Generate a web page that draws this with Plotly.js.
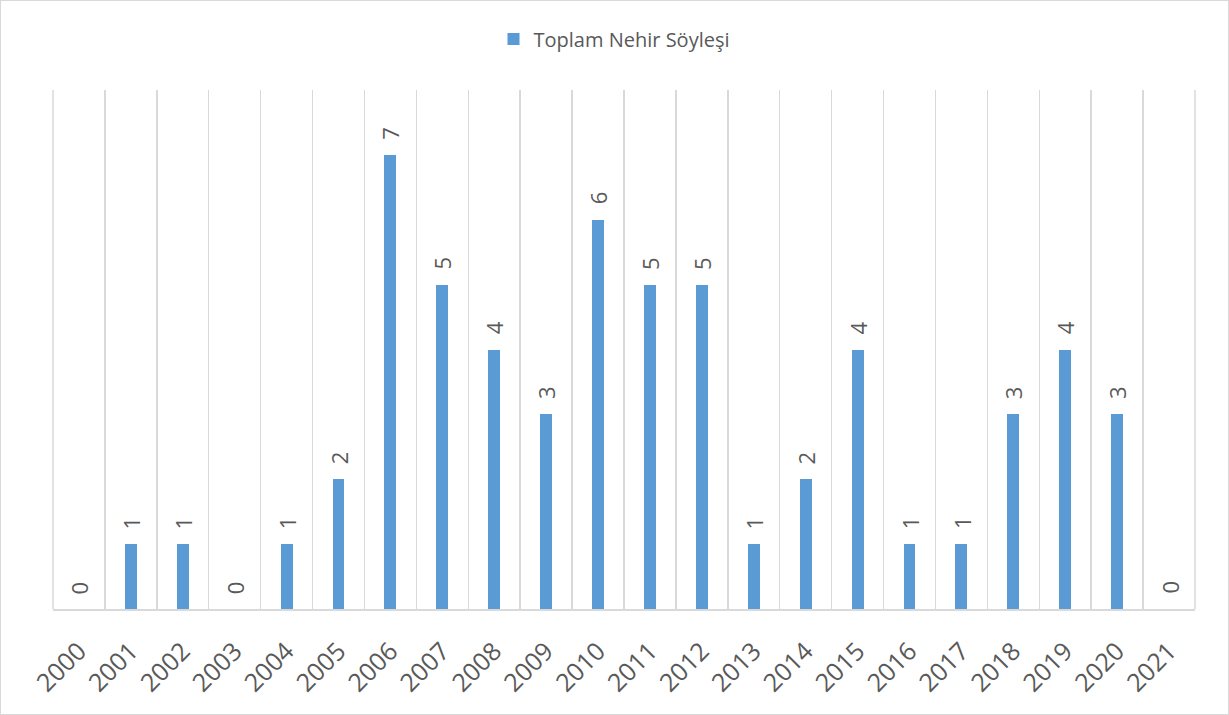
<!DOCTYPE html>
<html><head><meta charset="utf-8">
<script src="https://cdn.plot.ly/plotly-3.0.1.min.js"></script>
<style>html,body{margin:0;padding:0;background:#fff}#c{width:1229px;height:715px;box-sizing:border-box;border:1px solid #d9d9d9}</style>
</head><body><div id="c"></div>
<script>
const years = ["2000","2001","2002","2003","2004","2005","2006","2007","2008","2009","2010","2011","2012","2013","2014","2015","2016","2017","2018","2019","2020","2021"];
const counts = [0,1,1,0,1,2,7,5,4,3,6,5,5,1,2,4,1,1,3,4,3,0];
const seriesName = "Toplam Nehir Söyleşi";

const FONT = 'Open Sans, Liberation Sans, sans-serif';
const GREY = '#595959';
const GRID = '#d9d9d9';

const labels = years.map((y, i) => ({
  x: i, y: counts[i], xref: 'x', yref: 'y',
  text: String(counts[i]), showarrow: false, textangle: -90,
  xanchor: 'center', yanchor: 'bottom', yshift: 13,
  font: {family: FONT, size: 22, color: GREY}
}));

const edges = [0, 1].map(px => ({
  type: 'line', xref: 'paper', yref: 'paper', x0: px, x1: px, y0: 0, y1: 1,
  line: {color: GRID, width: 1.5}, layer: 'below'
}));

Plotly.newPlot('c', [{
  type:'bar', x:years, y:counts, name:seriesName,
  marker:{color:'#5b9bd5'}, width:0.23, showlegend:true
}], {
  width:1227, height:713,
  margin:{l:52, r:33, t:89, b:105},
  paper_bgcolor:'#fff', plot_bgcolor:'#fff',
  showlegend:true,
  legend:{orientation:'h', x:0.5, xanchor:'center', xref:'container',
    y:1 - 38/713, yanchor:'middle', yref:'container',
    font:{family:FONT, size:20, color:GREY}},
  xaxis:{type:'category', range:[-0.5, years.length - 0.5], autorange:false,
    tickson:'boundaries', showgrid:true, gridcolor:GRID, gridwidth:1.5,
    showline:true, linecolor:GRID, linewidth:1.5, ticks:'', tickangle:-45,
    ticklabelstandoff: 16,
    tickfont:{family:FONT, size:25, color:GREY}},
  yaxis:{range:[0,8], autorange:false, showgrid:false, showticklabels:false, zeroline:false, showline:false, ticks:''},
  bargap:0,
  annotations: labels,
  shapes: edges
}, {displayModeBar:false, staticPlot:true});
</script></body></html>
